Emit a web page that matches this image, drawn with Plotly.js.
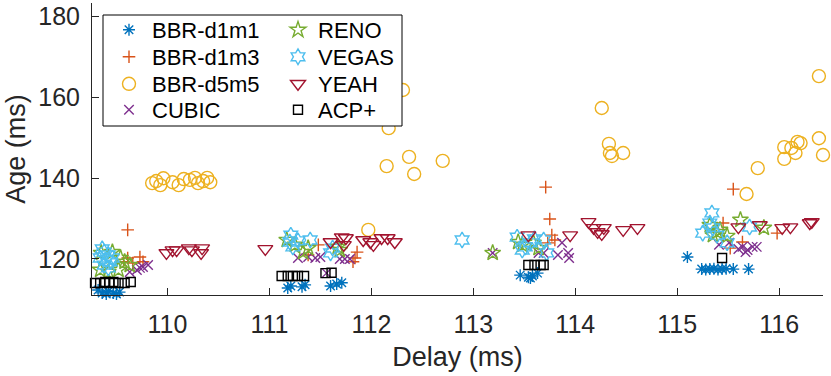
<!DOCTYPE html>
<html>
<head>
<meta charset="utf-8">
<script src="https://cdn.plot.ly/plotly-3.0.1.min.js"></script>
<style>html,body{margin:0;padding:0;background:#fff;}#chart{width:831px;height:376px;}</style>
</head>
<body>
<div id="chart"></div>
<script>
// Series names
const seriesNames = ['BBR-d1m1','BBR-d1m3','BBR-d5m5','CUBIC','RENO','VEGAS','YEAH','ACP+'];
// Delay (ms) / Age (ms) per series
const bbrD1m1Delay = [109.32,109.36,109.40,109.42,109.44,109.47,109.50,109.53,109.38,
  111.18,111.21,111.32,111.35,111.60,111.66,111.71,
  113.46,113.54,113.58,113.63,113.56,
  115.10,115.24,115.28,115.32,115.36,115.40,115.44,115.48,115.55,115.70];
const bbrD1m1Age = [112.3,111.6,111.3,112.0,111.0,111.6,111.3,111.8,110.9,
  112.8,113.3,113.1,113.6,113.3,113.8,114.1,
  116.0,115.5,115.8,116.5,115.3,
  120.5,117.5,117.4,117.5,117.6,117.4,117.5,117.6,117.5,117.5];

const bbrD1m3Delay = [109.61,109.61,109.73,109.66,109.76,109.57,
  111.48,111.38,111.86,111.84,111.82,
  113.71,113.75,113.77,113.73,113.80,
  115.45,115.55,115.64,115.52,115.98];
const bbrD1m3Age = [127.2,120.25,120.5,119.0,119.3,119.3,
  123.5,121.0,121.7,120.25,119.3,
  137.8,129.9,125.9,124.0,124.7,
  128.9,137.3,124.2,122.7,126.4];

const bbrD5m5Delay = [109.85,109.89,109.93,109.96,110.05,110.11,110.16,110.22,110.27,110.30,110.35,110.39,110.42,
  112.31,112.17,112.37,112.15,112.42,112.70,111.97,
  114.26,114.33,114.34,114.36,114.47,
  115.79,115.68,116.05,116.05,116.12,116.16,116.18,116.21,116.39,116.43,116.39];
const bbrD5m5Age = [138.8,139.3,138.3,140.0,139.0,138.3,139.8,139.6,140.1,138.8,139.3,140.1,139.0,
  161.85,152.4,145.3,143.0,141.05,144.3,127.2,
  157.4,148.5,146.25,145.5,146.25,
  142.5,136.1,147.7,144.8,147.5,146.25,149.0,148.7,149.9,145.75,165.3];

const cubicDelay = [109.70,109.76,109.81,109.63,109.73,
  111.28,111.38,111.45,111.50,111.69,111.74,111.79,111.56,
  113.19,113.64,113.69,113.83,113.93,113.94,113.87,
  115.41,115.51,115.64,115.69,115.74,115.78,115.67,115.60];
const cubicAge = [117.3,118.0,118.5,116.8,117.8,
  120.25,120.5,120.25,120.5,120.0,120.0,120.0,116.5,
  121.5,121.5,121.5,121.0,121.5,120.25,124.0,
  123.5,124.0,123.0,122.2,123.0,123.0,121.7,122.5];

const renoDelay = [109.46,109.54,109.58,109.52,109.63,109.42,109.35,109.34,
  111.17,111.33,111.38,111.69,111.67,111.25,
  113.19,113.44,113.59,113.64,113.48,
  115.32,115.42,115.35,115.49,115.62,115.85,115.39];
const renoAge = [121.7,120.25,119.3,117.3,118.5,116.8,121.5,117.3,
  124.7,121.7,122.7,122.2,123.0,123.5,
  121.5,124.2,124.0,122.7,123.5,
  128.4,127.2,125.9,125.7,129.7,127.7,126.7];

const vegasDelay = [109.38,109.42,109.40,109.44,109.38,109.46,109.34,109.42,109.36,
  111.21,111.20,111.40,111.23,111.60,111.62,111.28,
  112.89,113.43,113.51,113.48,113.69,113.72,113.56,113.60,
  115.34,115.32,115.35,115.25,115.39,115.71,115.49];
const vegasAge = [121.7,121.0,119.75,119.3,118.5,120.25,120.25,117.8,122.5,
  125.9,124.2,124.7,123.0,121.5,122.7,124.5,
  124.7,125.4,123.0,122.2,124.7,121.5,124.0,125.0,
  131.4,128.9,127.7,126.4,125.9,127.9,124.0];

const yeahDelay = [109.99,110.05,110.09,110.21,110.24,110.33,110.34,110.96,
  111.60,111.71,111.75,111.73,111.92,111.99,112.02,112.10,112.16,112.23,
  113.54,113.95,114.13,114.18,114.22,114.26,114.28,114.47,114.61,
  115.60,115.81,116.03,116.11,116.30,116.32];
const yeahAge = [121.5,122.2,122.2,122.7,122.2,121.5,122.7,122.5,
  124.2,125.4,125.2,123.5,124.7,124.2,123.5,125.2,125.2,124.2,
  125.9,125.9,129.2,127.7,126.7,126.2,127.7,127.2,127.7,
  127.9,128.4,127.7,127.9,128.9,129.2];

const acpDelay = [109.24,109.29,109.34,109.39,109.43,109.47,109.52,109.58,109.64,
  111.12,111.18,111.23,111.28,111.34,111.55,111.61,
  113.54,113.60,113.66,113.69,
  115.44];
const acpAge = [114.05,114.05,114.05,114.3,114.05,114.3,114.05,114.05,114.3,
  115.8,115.8,115.8,115.8,115.8,116.5,116.6,
  118.5,118.5,118.5,118.5,
  120.25];

const xTicks = [110,111,112,113,114,115,116];
const yTicks = [120,140,160,180];

const xs = [bbrD1m1Delay,bbrD1m3Delay,bbrD5m5Delay,cubicDelay,renoDelay,vegasDelay,yeahDelay,acpDelay];
const ys = [bbrD1m1Age,bbrD1m3Age,bbrD5m5Age,cubicAge,renoAge,vegasAge,yeahAge,acpAge];
const colors = ['#0072BD','#D95319','#EDB120','#7E2F8E','#77AC30','#4DBEEE','#A2142F','#000000'];
const symbols = ['asterisk-open','cross-thin-open','circle-open','x-thin-open','star-open','hexagram-open','triangle-down-open','square-open'];
const sizes = [10,9,13,9.5,12,12,13,9];

const FONT = 'Liberation Sans, Arial, Helvetica, sans-serif';
const TXT = '#262626';

const traces = seriesNames.map((n,i)=>({
  type:'scatter', mode:'markers', name:n, x:xs[i], y:ys[i],
  cliponaxis:false,
  legend: i===0 ? 'legend' : 'legend'+(i+1),
  marker:{symbol:symbols[i], size:sizes[i], color:colors[i], line:{color:colors[i], width:1.4}},
  hoverinfo:'skip'
}));

// legend positions (paper coords of plot area: x 92..823, y 3..295)
const plotL=92, plotW=731, plotT=3, plotH=292;
const colX = [106, 278];
const colItemW = [36, 30];
const rowY = [30, 57, 84, 110];
const layout = {
  width:831, height:376,
  margin:{l:plotL, r:831-plotL-plotW, t:plotT, b:376-plotT-plotH},
  paper_bgcolor:'#fff', plot_bgcolor:'#fff',
  font:{family:FONT, color:TXT},
  showlegend:true,
  xaxis:{range:[109.26,116.43], tickvals:xTicks, ticktext:xTicks.map(String),
    ticks:'inside', ticklen:7, tickcolor:TXT, tickwidth:1,
    showline:true, linecolor:TXT, linewidth:1, showgrid:false, zeroline:false,
    tickfont:{size:25, family:FONT, color:TXT}, ticklabelstandoff:7,
    title:{text:'Delay (ms)', font:{size:27, family:FONT, color:TXT}, standoff:10}},
  yaxis:{range:[111.08,183.4], tickvals:yTicks, ticktext:yTicks.map(String),
    ticks:'inside', ticklen:7, tickcolor:TXT, tickwidth:1,
    showline:true, linecolor:TXT, linewidth:1, showgrid:false, zeroline:false,
    tickfont:{size:25, family:FONT, color:TXT}, ticklabelstandoff:6,
    title:{text:'Age (ms)', font:{size:27, family:FONT, color:TXT}, standoff:4}},
  shapes:[{type:'rect', xref:'paper', yref:'paper', layer:'above',
    x0:(103-plotL)/plotW, x1:(402-plotL)/plotW,
    y0:(plotT+plotH-126)/plotH, y1:(plotT+plotH-15)/plotH,
    line:{color:'#000', width:1}, fillcolor:'#fff'}]
};
seriesNames.forEach((n,i)=>{
  const key = i===0 ? 'legend' : 'legend'+(i+1);
  const col = Math.floor(i/4), row = i%4;
  layout[key] = {x:(colX[col]-plotL)/plotW, y:(plotT+plotH-rowY[row])/plotH,
    xanchor:'left', yanchor:'middle', bgcolor:'rgba(0,0,0,0)', borderwidth:0,
    font:{size:22, family:FONT, color:'#000'}, itemwidth:colItemW[col], itemclick:false, itemdoubleclick:false};
});
Plotly.newPlot('chart', traces, layout, {displayModeBar:false, staticPlot:true});
</script>
</body>
</html>
